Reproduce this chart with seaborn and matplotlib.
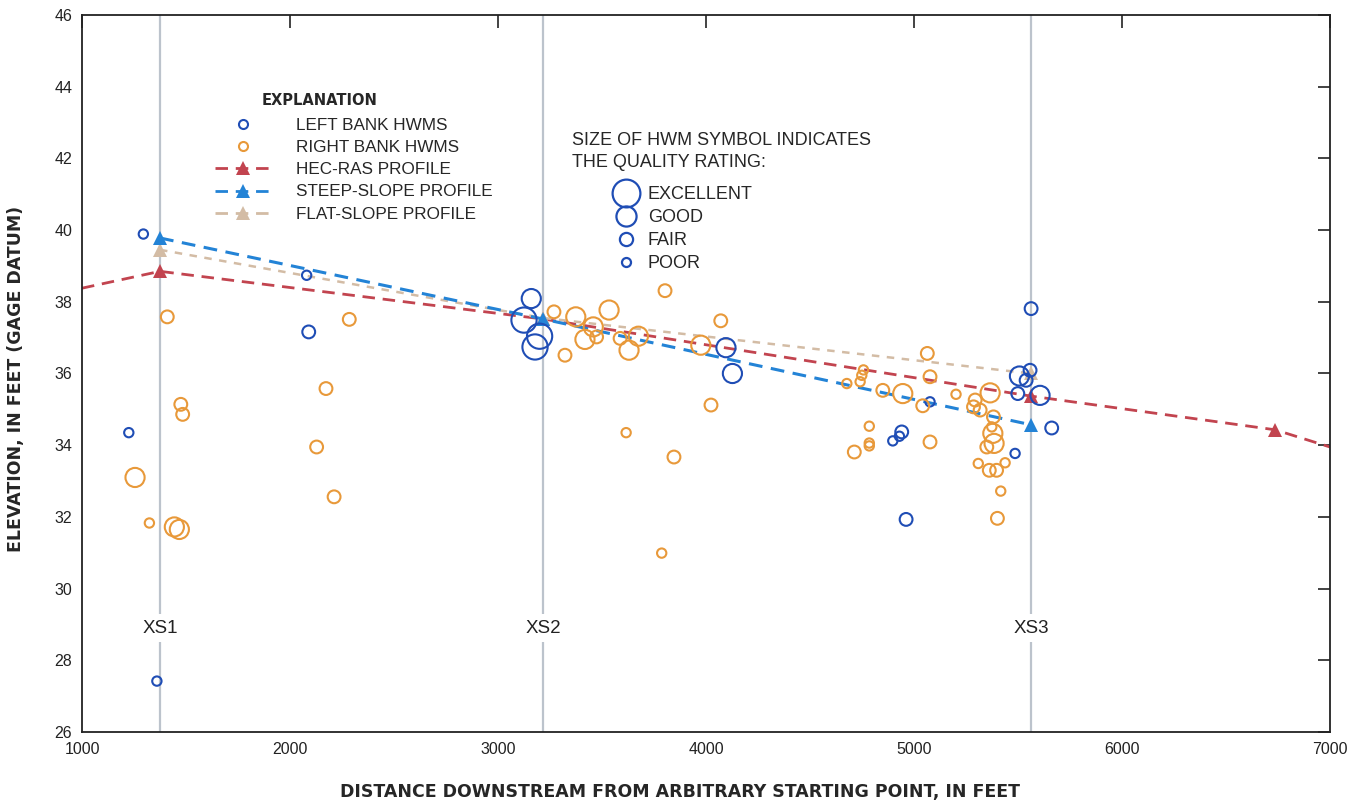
import numpy as np
import pandas as pd
import matplotlib
matplotlib.use("Agg")
import matplotlib.pyplot as plt
from matplotlib.lines import Line2D
import seaborn as sns

# ---------------- data ----------------
lb_x = [1295, 2080, 2090, 1225, 1360, 3160, 3125, 3200, 3178, 4096, 4127, 4898, 4930, 4941,
        4962, 5077, 5563, 5507, 5558, 5539, 5499, 5606, 5662, 5486]
lb_y = [39.89, 38.74, 37.16, 34.35, 27.42, 38.09, 37.49, 37.04, 36.74, 36.72, 36.00, 34.12, 34.25, 34.37,
        31.93, 35.21, 37.81, 35.93, 36.09, 35.81, 35.44, 35.39, 34.48, 33.77]
lb_q = ["POOR", "POOR", "FAIR", "POOR", "POOR", "GOOD", "EXCELLENT", "EXCELLENT", "EXCELLENT", "GOOD", "GOOD",
        "POOR", "POOR", "FAIR", "FAIR", "POOR", "FAIR", "GOOD", "FAIR", "FAIR", "FAIR", "GOOD", "FAIR", "POOR"]

rb_x = [1410, 2285, 1475, 1484, 2173, 1255, 2128, 2212, 1324, 1444, 1468,
        3269, 3374, 3534, 3458, 3418, 3322, 3630, 3675, 3587, 3803, 4071, 3975, 4024, 3616, 3846, 3787, 3474,
        4677, 4741, 4749, 4757, 4785, 4785, 4785, 4713, 5077, 4850, 4946, 5042, 5077, 5202, 5064,
        5366, 5294, 5318, 5382, 5379, 5385, 5350, 5309, 5362, 5397, 5438, 5417, 5401, 5286, 5374]
rb_y = [37.58, 37.51, 35.14, 34.86, 35.58, 33.10, 33.95, 32.56, 31.83, 31.72, 31.65,
        37.72, 37.58, 37.77, 37.30, 36.95, 36.51, 36.65, 37.04, 36.98, 38.31, 37.47, 36.79, 35.12, 34.35, 33.67, 30.99, 37.02,
        35.72, 35.77, 35.95, 36.10, 34.53, 34.06, 33.98, 33.81, 34.09, 35.53, 35.44, 35.10, 35.91, 35.42, 36.56,
        35.46, 35.26, 34.98, 34.79, 34.33, 34.05, 33.95, 33.49, 33.30, 33.30, 33.51, 32.72, 31.96, 35.07, 34.51]
rb_q = ["FAIR", "FAIR", "FAIR", "FAIR", "FAIR", "GOOD", "FAIR", "FAIR", "POOR", "GOOD", "GOOD",
        "FAIR", "GOOD", "GOOD", "GOOD", "GOOD", "FAIR", "GOOD", "GOOD", "FAIR", "FAIR", "FAIR", "GOOD", "FAIR", "POOR", "FAIR", "POOR", "FAIR",
        "POOR", "POOR", "POOR", "POOR", "POOR", "POOR", "POOR", "FAIR", "FAIR", "FAIR", "GOOD", "FAIR", "FAIR", "POOR", "FAIR",
        "GOOD", "FAIR", "FAIR", "FAIR", "GOOD", "GOOD", "FAIR", "POOR", "FAIR", "FAIR", "POOR", "POOR", "FAIR", "FAIR", "POOR"]

hec_x = [1000, 1375, 3216, 5562, 6736, 7000]
hec_y = [38.38, 38.85, 37.52, 35.37, 34.43, 33.95]
steep_x = [1375, 3216, 5562]
steep_y = [39.78, 37.52, 34.57]
flat_x = [1375, 3216, 5562]
flat_y = [39.45, 37.55, 36.00]

xs_pos = [1375, 3216, 5562]
xs_labels = ["XS1", "XS2", "XS3"]

x_ticks = [1000, 2000, 3000, 4000, 5000, 6000, 7000]
y_ticks = [26, 28, 30, 32, 34, 36, 38, 40, 42, 44, 46]

quality_order = ["EXCELLENT", "GOOD", "FAIR", "POOR"]
size_map = {"EXCELLENT": 330, "GOOD": 190, "FAIR": 85, "POOR": 45}
legend_ms = {"EXCELLENT": 20, "GOOD": 14.5, "FAIR": 9.5, "POOR": 6.5}

BLUE = "#1f4db5"
ORANGE = "#e8993a"
RED = "#c2444f"
STEEP = "#2383d6"
FLAT = "#d3bca5"
XSGREY = "#bcc3cc"

# ---------------- style ----------------
sns.set_style("white")
plt.rcParams["font.family"] = ["Liberation Sans", "DejaVu Sans"]

fig = plt.figure(figsize=(13.57, 8.08), dpi=100)
ax = fig.add_axes([82 / 1357, 1 - 732 / 808, 1248 / 1357, 717 / 808])

# cross-section lines
for xp, lab in zip(xs_pos, xs_labels):
    ax.axvline(xp, color=XSGREY, lw=1.6, zorder=1)
    ax.text(xp, 28.9, lab, ha="center", va="center", fontsize=13.5, color="#222222",
            bbox=dict(facecolor="white", edgecolor="none", pad=4), zorder=1.5)

# profiles
dash = (0, (4.5, 2.8))
sns.lineplot(x=hec_x, y=hec_y, ax=ax, color=RED, linestyle=dash, lw=2.0, marker="^",
             markersize=10, markeredgewidth=0, markevery=[1, 2, 3, 4], sort=False, zorder=2)
sns.lineplot(x=flat_x, y=flat_y, ax=ax, color=FLAT, linestyle=(0, (3, 3)), lw=1.8, marker="^",
             markersize=10, markeredgewidth=0, sort=False, zorder=2)
sns.lineplot(x=steep_x, y=steep_y, ax=ax, color=STEEP, linestyle=dash, lw=2.2, marker="^",
             markersize=10, markeredgewidth=0, sort=False, zorder=2)

# high-water marks
df = pd.DataFrame({
    "x": lb_x + rb_x,
    "y": lb_y + rb_y,
    "bank": ["LEFT"] * len(lb_x) + ["RIGHT"] * len(rb_x),
    "quality": lb_q + rb_q,
})
n_before = len(ax.collections)
sns.scatterplot(data=df, x="x", y="y", hue="bank", palette={"LEFT": BLUE, "RIGHT": ORANGE},
                size="quality", sizes=size_map, size_order=quality_order, legend=False,
                ax=ax, linewidth=1.5, zorder=3)
for coll in ax.collections[n_before:]:
    fcs = coll.get_facecolors()
    coll.set_edgecolors(fcs)
    coll.set_facecolors("none")

# axes formatting
ax.set_xlim(1000, 7000)
ax.set_ylim(26, 46)
ax.set_xticks(x_ticks)
ax.set_yticks(y_ticks)
ax.set_xticklabels([str(t) for t in x_ticks])
ax.set_yticklabels([str(t) for t in y_ticks])
ax.tick_params(direction="in", length=9, width=1.2, top=True, right=True,
               labelsize=11.5, pad=7, colors="#222222")
for sp in ax.spines.values():
    sp.set_visible(True)
    sp.set_color("#222222")
    sp.set_linewidth(1.3)

ax.set_xlabel("DISTANCE DOWNSTREAM FROM ARBITRARY STARTING POINT, IN FEET",
              fontsize=12.5, fontweight="bold", family=["DejaVu Sans"])
ax.xaxis.set_label_coords(0.479, -0.071)
ax.set_ylabel("ELEVATION, IN FEET (GAGE DATUM)", fontsize=12.5, fontweight="bold",
              family=["DejaVu Sans"])
ax.yaxis.set_label_coords(-0.0457, 0.492)

# legend 1
ax.text(0.144, 0.881, "EXPLANATION", transform=ax.transAxes, fontsize=10.5, fontweight="bold",
        va="center", ha="left", family=["DejaVu Sans"])
h1 = [
    Line2D([], [], ls="none", marker="o", ms=6.5, mfc="none", mec=BLUE, mew=1.5),
    Line2D([], [], ls="none", marker="o", ms=6.5, mfc="none", mec=ORANGE, mew=1.5),
    Line2D([], [], color=RED, ls=dash, lw=2, marker="^", ms=10, mew=0),
    Line2D([], [], color=STEEP, ls=dash, lw=2, marker="^", ms=10, mew=0),
    Line2D([], [], color=FLAT, ls=dash, lw=2, marker="^", ms=10, mew=0),
]
l1 = ["LEFT BANK HWMS", "RIGHT BANK HWMS", "HEC-RAS PROFILE", "STEEP-SLOPE PROFILE", "FLAT-SLOPE PROFILE"]
leg1 = ax.legend(h1, l1, loc="upper left", bbox_to_anchor=(0.1066, 0.8564), frameon=False,
                 fontsize=12.3, handlelength=3.3, handletextpad=1.45, labelspacing=0.42,
                 borderpad=0, borderaxespad=0, markerscale=1)
ax.add_artist(leg1)

# legend 2
ax.text(0.3926, 0.810, "SIZE OF HWM SYMBOL INDICATES\nTHE QUALITY RATING:", transform=ax.transAxes,
        fontsize=13, va="center", ha="left", linespacing=1.37)
h2 = [Line2D([], [], ls="none", marker="o", ms=legend_ms[q], mfc="none", mec=BLUE, mew=1.6)
      for q in quality_order]
leg2 = ax.legend(h2, quality_order, loc="upper left", bbox_to_anchor=(0.424, 0.761), frameon=False,
                 fontsize=13, handlelength=1.6, handletextpad=0.44, labelspacing=0.33,
                 borderpad=0, borderaxespad=0)

fig.savefig("out.png", dpi=100, facecolor="white")
